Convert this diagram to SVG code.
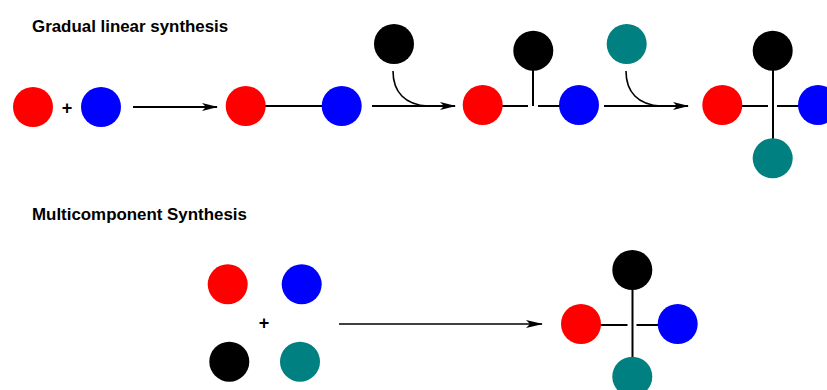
<svg xmlns="http://www.w3.org/2000/svg" width="827" height="390" viewBox="0 0 827 390">
<style>
.title{font-family:"Liberation Sans",Arial,sans-serif;font-weight:bold;font-size:16.9px;fill:#000}
.plus{font-family:"Liberation Sans",Arial,sans-serif;font-weight:bold;font-size:18px;fill:#000;text-anchor:middle}
.r{fill:#FF0000}.b{fill:#0000FF}.k{fill:#000000}.t{fill:#008080}
.bond{stroke:#000;stroke-width:2;fill:none}
.arr{stroke:#000;stroke-width:2;fill:none;marker-end:url(#ah)}
.arr2{stroke:#000;stroke-width:1.4;fill:none;marker-end:url(#ah2)}
.curve{stroke:#000;stroke-width:1.6;fill:none}
</style>
<defs>
<marker id="ah" markerUnits="userSpaceOnUse" markerWidth="17" markerHeight="10" refX="15" refY="4" orient="auto">
<path d="M0,0 L16,4 L0,8 L4,4 z" fill="#000"/>
</marker>
<marker id="ah2" markerUnits="userSpaceOnUse" markerWidth="18" markerHeight="10" refX="16" refY="4" orient="auto">
<path d="M0,0 L17,4 L0,8 L4,4 z" fill="#000"/>
</marker>
</defs>
<rect width="827" height="390" fill="#fff"/>
<text class="title" x="32" y="32">Gradual linear synthesis</text>
<text class="title" x="32" y="220">Multicomponent Synthesis</text>

<g id="connectors">
<path class="arr" d="M133,107 L217,107"/>
<path class="bond" d="M245,106 L342,106"/>
<path class="arr" d="M372,106 L455,106"/>
<path class="curve" d="M393,71 C393,92 405,105 428,106"/>
<path class="bond" d="M502,106 L528,106 M538,106 L560,106 M533,70 L533,106"/>
<path class="arr" d="M604,106 L688,106"/>
<path class="curve" d="M626,71 C626,92 638,105 661,106"/>
<path class="bond" d="M742,106 L768,106 M777,106 L800,106 M773,70 L773,140"/>
<path class="arr2" d="M339,324 L542,324"/>
<path class="bond" d="M600,325 L627.5,325 M636.5,325 L660,325 M632.5,290 L632.5,358"/>
</g>

<g id="step1-reactants">
<circle class="r" cx="33" cy="107" r="20"/>
<text class="plus" x="67" y="113.5">+</text>
<circle class="b" cx="101" cy="107" r="20"/>
</g>
<g id="step1-product">
<circle class="r" cx="245.7" cy="106" r="20"/>
<circle class="b" cx="341.7" cy="106" r="20"/>
</g>
<g id="reagent-black">
<circle class="k" cx="394" cy="44" r="20"/>
</g>
<g id="step2-product">
<circle class="r" cx="482.7" cy="105" r="20"/>
<circle class="k" cx="533.3" cy="50.7" r="20"/>
<circle class="b" cx="579" cy="105" r="20"/>
</g>
<g id="reagent-teal">
<circle class="t" cx="626.7" cy="44" r="20"/>
</g>
<g id="step3-product">
<circle class="r" cx="722.3" cy="105" r="20"/>
<circle class="k" cx="772.7" cy="50.7" r="20"/>
<circle class="b" cx="818" cy="105" r="20"/>
<circle class="t" cx="772.7" cy="158.3" r="20"/>
</g>
<g id="mc-reactants">
<circle class="r" cx="227.7" cy="284.3" r="20"/>
<circle class="b" cx="301.7" cy="284.3" r="20"/>
<text class="plus" x="264" y="328.5">+</text>
<circle class="k" cx="229.3" cy="361.7" r="20"/>
<circle class="t" cx="300" cy="361.7" r="20"/>
</g>
<g id="mc-product">
<circle class="k" cx="632.3" cy="270" r="20"/>
<circle class="r" cx="581" cy="324" r="20"/>
<circle class="b" cx="677.7" cy="324" r="20"/>
<circle class="t" cx="632.3" cy="376.7" r="20"/>
</g>
</svg>
